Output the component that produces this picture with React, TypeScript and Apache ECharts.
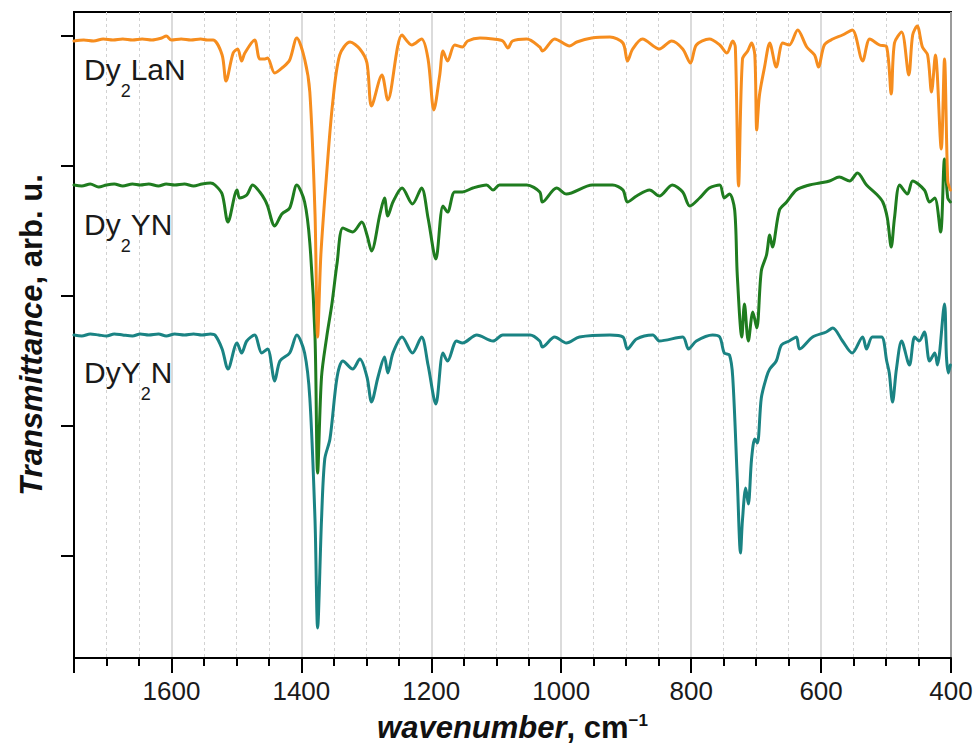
import React, { useEffect, useRef } from "react";
import * as echarts from "echarts";

// x axis (wavenumber, cm^-1), drawn reversed
const X_MIN = 400;
const X_MAX = 1750;
const X_MAJOR = 200;
const X_MINOR_SPLIT = 4;

// y axis (arb. u.): tick marks only
const Y_MIN = -102;
const Y_MAX = 544;
const Y_TICKS = [0, 130, 260, 390, 520];

// series names (rich text with subscripts), colours, vertical offsets
const SERIES_NAMES = ["Dy2LaN", "Dy2YN", "DyY2N"];
const SERIES_RICH = ["{n|Dy}{s|2}{n|LaN}", "{n|Dy}{s|2}{n|YN}", "{n|DyY}{s|2}{n|N}"];
const SERIES_COLORS = ["#F68D1E", "#1F7C1F", "#1A8383"];
const OFFSETS = [516, 371, 221];

// spectra: [wavenumber, relative transmittance]
const DY2LAN: number[][] = [
  [1750, -1], [1735, 0], [1720, -1], [1705, 1], [1690, 0], [1675, 1], [1660, 0], [1645, 1], [1630, 0], [1615, 2], [1608, 4], [1600, 0], [1585, 1], [1570, 0], [1555, 1], [1545, 0], [1536, 0],
  [1522, -15], [1516, -41], [1505, -13], [1498, -9], [1492, -21], [1487, -13], [1472, 0], [1464, -19], [1456, -19], [1452, -18], [1441, -33], [1428, -27], [1418, -20], [1407, 2], [1395, -19], [1387, -52], [1379, -174], [1375, -297], [1370, -215], [1361, -133], [1352, -64], [1341, -15], [1325, -2], [1310, -9], [1299, -23], [1292, -66], [1276, -35], [1267, -60], [1245, 5], [1230, -5], [1215, 1], [1205, -19], [1196, -70], [1187, -35], [1182, -11], [1175, -21], [1164, -5], [1152, -7], [1144, -1], [1125, 2], [1105, 1], [1090, -1], [1082, -8], [1075, -1], [1053, 1], [1033, -7], [1029, -11], [1010, 1], [987, -6], [976, -2], [953, 2], [925, 3], [905, -3], [898, -21], [890, -9], [875, 1], [849, -9], [830, -1], [813, -9], [801, -23], [792, -5], [772, 1], [756, -5], [745, -13], [736, -1], [732, -7], [727, -146], [721, -19], [713, -11], [707, -3], [702, -15], [699, -90], [695, -56], [687, -27], [679, -3], [669, -27], [659, -3], [649, -5], [636, 10], [622, -7], [610, -15], [604, -27], [595, -5], [582, 1], [567, 5], [552, 10], [536, -21], [525, 1], [510, -5], [499, -7], [492, -54], [487, -3], [476, 8], [465, -35], [459, 5], [452, 14], [444, -7], [436, -15], [430, -52], [424, -15], [415, -109], [410, -19], [405, -141], [401, -150],
];

const DY2YN: number[][] = [
  [1750, 0], [1738, -1], [1725, 1], [1712, -2], [1700, 0], [1688, 1], [1675, -1], [1660, 1], [1648, 0], [1635, 1], [1620, -1], [1608, 1], [1595, 0], [1580, 1], [1566, -1], [1553, 1], [1540, 2], [1533, 0],
  [1522, -9], [1513, -37], [1499, -5], [1495, -13], [1484, -10], [1475, 0], [1464, -7], [1456, -15], [1452, -21], [1441, -41], [1430, -29], [1418, -23], [1407, 0], [1395, -17], [1387, -58], [1379, -152], [1375, -288], [1369, -192], [1361, -152], [1353, -119], [1345, -78], [1336, -43], [1321, -47], [1307, -37], [1299, -50], [1292, -66], [1279, -29], [1272, -13], [1267, -31], [1259, -17], [1245, -3], [1229, -19], [1215, -3], [1205, -33], [1193, -74], [1182, -21], [1175, -27], [1164, -7], [1152, -7], [1136, -3], [1115, 0], [1105, -5], [1095, 0], [1075, 0], [1053, 0], [1033, -7], [1029, -17], [1007, -3], [992, -9], [952, 0], [921, 0], [905, -5], [898, -17], [884, -11], [864, -5], [849, -11], [829, 0], [813, -7], [802, -21], [787, -13], [772, -3], [756, 0], [749, -13], [741, -9], [733, -25], [729, -90], [722, -152], [718, -119], [712, -156], [705, -127], [699, -143], [692, -86], [684, -70], [679, -50], [675, -62], [664, -25], [653, -17], [638, -5], [618, 0], [602, 2], [587, 4], [572, 8], [556, 4], [544, 12], [530, 0], [515, -9], [505, -17], [498, -33], [492, -62], [487, -33], [479, 0], [467, -9], [459, 4], [441, -5], [433, -17], [425, -13], [416, -47], [410, 26], [405, -13], [401, -17],
];

const DYY2N: number[][] = [
  [1750, 0], [1738, -1], [1725, 1], [1712, 0], [1700, -1], [1688, 1], [1675, 0], [1660, -1], [1648, 1], [1635, 0], [1620, 1], [1608, -1], [1595, 1], [1580, 0], [1566, 1], [1553, 0], [1540, 1], [1533, 0],
  [1522, -14], [1513, -34], [1499, -8], [1492, -18], [1484, -6], [1472, 0], [1461, -18], [1452, -14], [1441, -46], [1433, -26], [1418, -18], [1407, 0], [1395, -18], [1387, -63], [1379, -185], [1375, -293], [1369, -185], [1364, -124], [1356, -104], [1345, -42], [1336, -26], [1321, -34], [1310, -24], [1299, -42], [1292, -67], [1282, -42], [1272, -22], [1267, -38], [1259, -18], [1245, -2], [1229, -18], [1215, -2], [1205, -30], [1193, -69], [1182, -18], [1175, -26], [1161, -6], [1152, -8], [1130, 0], [1105, -6], [1090, 0], [1065, 0], [1048, 0], [1033, -6], [1029, -12], [1010, -2], [992, -8], [972, -2], [925, 0], [905, -2], [898, -14], [884, -4], [859, 0], [849, -6], [813, -2], [804, -14], [792, -6], [767, 0], [756, -2], [749, -18], [741, -20], [736, -42], [729, -144], [724, -218], [721, -185], [716, -153], [712, -169], [707, -124], [702, -104], [698, -108], [692, -63], [684, -42], [679, -34], [669, -26], [661, -10], [649, -6], [638, -2], [633, -14], [613, -2], [592, 3], [582, 7], [567, -6], [552, -18], [536, -2], [530, -14], [521, -2], [507, -2], [499, -26], [495, -38], [490, -67], [484, -34], [476, -6], [464, -30], [456, -2], [449, -6], [441, 3], [433, -26], [425, -18], [421, -30], [410, 31], [407, -22], [404, -38], [401, -30],
];

const SPECTRA = [DY2LAN, DY2YN, DYY2N];

const FONT = "'Liberation Sans', Arial, Helvetica, sans-serif";

export default function App() {
  const ref = useRef<HTMLDivElement>(null);

  useEffect(() => {
    if (!ref.current) return;
    const chart = echarts.init(ref.current, null, { renderer: "svg" });

    const series = SPECTRA.map((spec, i) => ({
      name: SERIES_NAMES[i],
      type: "line",
      data: spec.map(([w, t]) => [w, t + OFFSETS[i]]),
      showSymbol: false,
      smooth: 0.3,
      lineStyle: { color: SERIES_COLORS[i], width: 3, join: "round", cap: "round" },
      itemStyle: { color: SERIES_COLORS[i] },
      z: 10 - i,
    })).reverse();

    const labelPos = [
      [84, 54],
      [84, 209],
      [84, 357],
    ];

    chart.setOption({
      animation: false,
      grid: {
        left: 74,
        right: 28,
        top: 12,
        bottom: 92,
        show: true,
        borderColor: "#000",
        borderWidth: 2,
        backgroundColor: "transparent",
      },
      xAxis: {
        type: "value",
        min: X_MIN,
        max: X_MAX,
        interval: X_MAJOR,
        inverse: true,
        name: "{bi|wavenumber}{b|, cm}{sup|\u22121}",
        nameLocation: "middle",
        nameGap: 54,
        nameTextStyle: {
          rich: {
            bi: { fontFamily: FONT, fontSize: 31, fontWeight: "bold", fontStyle: "italic", color: "#111", lineHeight: 31, verticalAlign: "top" },
            b: { fontFamily: FONT, fontSize: 31, fontWeight: "bold", color: "#111", lineHeight: 31, verticalAlign: "top" },
            sup: { fontFamily: FONT, fontSize: 17, fontWeight: "bold", color: "#111", lineHeight: 17, verticalAlign: "top" },
          },
        },
        axisLine: { show: true, onZero: false, lineStyle: { color: "#000", width: 2 } },
        axisTick: { show: true, inside: false, length: 15, lineStyle: { color: "#000", width: 2 } },
        minorTick: { show: true, splitNumber: X_MINOR_SPLIT, length: 8, lineStyle: { color: "#000", width: 2 } },
        axisLabel: {
          show: true,
          fontFamily: FONT,
          fontSize: 26,
          color: "#1a1a1a",
          margin: 20,
          showMaxLabel: false,
          showMinLabel: true,
          formatter: (v: number) => String(v),
        },
        splitLine: { show: true, lineStyle: { color: "#cfcfcf", width: 1.5 } },
        minorSplitLine: { show: true, lineStyle: { color: "#d2d2d2", width: 1, type: [3, 3] } },
      },
      yAxis: {
        type: "value",
        min: Y_MIN,
        max: Y_MAX,
        name: "{bi|Transmittance}{b|, arb. u.}",
        nameLocation: "middle",
        nameGap: 27,
        nameRotate: 90,
        nameTextStyle: {
          rich: {
            bi: { fontFamily: FONT, fontSize: 31, fontWeight: "bold", fontStyle: "italic", color: "#111" },
            b: { fontFamily: FONT, fontSize: 31, fontWeight: "bold", color: "#111" },
          },
        },
        axisLine: { show: true, onZero: false, lineStyle: { color: "#000", width: 2 } },
        axisTick: { show: true, inside: false, length: 13, customValues: Y_TICKS, lineStyle: { color: "#000", width: 2 } },
        axisLabel: { show: false },
        splitLine: { show: false },
      },
      graphic: SERIES_RICH.map((txt, i) => ({
        type: "text",
        x: labelPos[i][0],
        y: labelPos[i][1],
        z: 100,
        style: {
          text: txt,
          verticalAlign: "top",
          align: "left",
          rich: {
            n: { fontFamily: FONT, fontSize: 30, fill: "#1a1a1a", color: "#1a1a1a", lineHeight: 46, verticalAlign: "top" },
            s: { fontFamily: FONT, fontSize: 18, fill: "#1a1a1a", color: "#1a1a1a", lineHeight: 14, verticalAlign: "bottom" },
          },
        },
      })),
      series,
    });

    return () => chart.dispose();
  }, []);

  return (
    <div
      ref={ref}
      style={{ position: "fixed", left: 0, top: 0, width: 979, height: 750, background: "#fff" }}
    />
  );
}
